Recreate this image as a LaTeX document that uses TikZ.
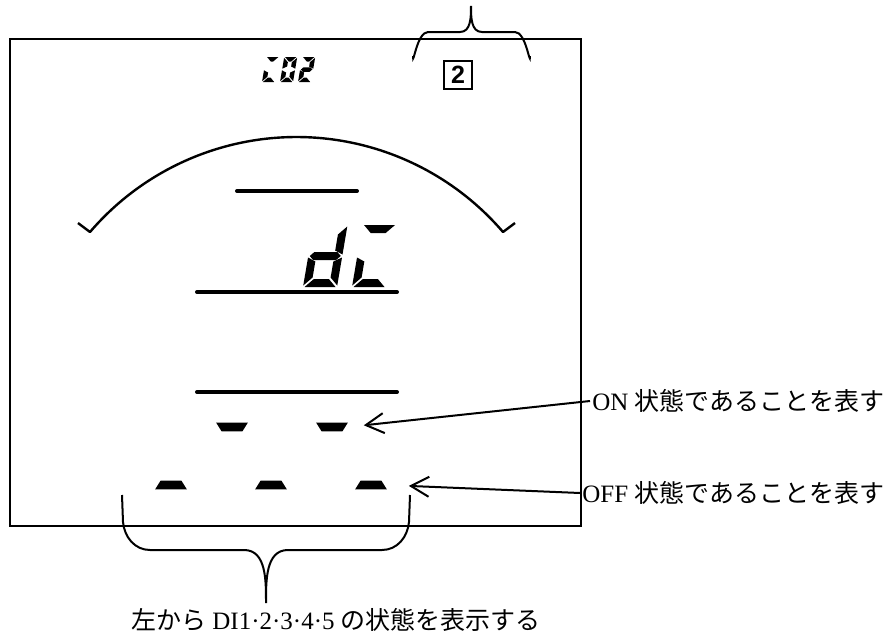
\documentclass[tikz,border=0pt]{standalone}
\usepackage{fontspec}
\setmainfont{Liberation Serif}
\newfontfamily\jpfont{Noto Sans CJK JP}
\newfontfamily\lcdsans{Liberation Sans}
\usetikzlibrary{calc, positioning, arrows.meta}

% seven segment sizes: width / height / thickness / gap (in px units of the picture)
\def\dgw{34}\def\dgh{62}\def\dgt{8}\def\dgg{1.5}
\newcommand{\segA}{\fill (\dgg,-\dgh) -- (\dgw-\dgg,-\dgh) -- (\dgw-\dgg-\dgt,-\dgh+\dgt) -- (\dgg+\dgt,-\dgh+\dgt) -- cycle;}
\newcommand{\segD}{\fill (\dgg,0) -- (\dgw-\dgg,0) -- (\dgw-\dgg-\dgt,-\dgt) -- (\dgg+\dgt,-\dgt) -- cycle;}
\newcommand{\segG}{\fill (\dgg,-\dgh/2) -- (\dgg+\dgt/2,-\dgh/2-\dgt/2) -- (\dgw-\dgg-\dgt/2,-\dgh/2-\dgt/2) -- (\dgw-\dgg,-\dgh/2) -- (\dgw-\dgg-\dgt/2,-\dgh/2+\dgt/2) -- (\dgg+\dgt/2,-\dgh/2+\dgt/2) -- cycle;}
\newcommand{\segF}{\fill (0,-\dgh+\dgg) -- (\dgt,-\dgh+\dgg+\dgt) -- (\dgt,-\dgh/2-\dgg-\dgt/2) -- (0,-\dgh/2-\dgg) -- cycle;}
\newcommand{\segE}{\fill (0,-\dgg) -- (\dgt,-\dgg-\dgt) -- (\dgt,-\dgh/2+\dgg+\dgt/2) -- (0,-\dgh/2+\dgg) -- cycle;}
\newcommand{\segB}{\fill (\dgw,-\dgh+\dgg) -- (\dgw-\dgt,-\dgh+\dgg+\dgt) -- (\dgw-\dgt,-\dgh/2-\dgg-\dgt/2) -- (\dgw,-\dgh/2-\dgg) -- cycle;}
\newcommand{\segC}{\fill (\dgw,-\dgg) -- (\dgw-\dgt,-\dgg-\dgt) -- (\dgw-\dgt,-\dgh/2+\dgg+\dgt/2) -- (\dgw,-\dgh/2+\dgg) -- cycle;}
% one slanted digit: bottom-left x / y / list of lit segments
\newcommand{\lcddigit}[3]{%
	\begin{scope}[shift={(#1,#2)}, xslant=0.17]
		\foreach \s in {#3} {\csname seg\s\endcsname}
	\end{scope}}

\begin{document}
\begin{tikzpicture}[x=0.5pt, y=-0.5pt,
		lcdbar/.style={line width=2pt, line cap=round},
		lcdline/.style={line width=1.2pt, line join=round},
		segbox/.style={inner sep=0pt, minimum width=15.5pt, minimum height=4pt},
		brace/.style={line width=1pt},
		pointer/.style={-{Straight Barb[length=9pt, width=10pt]}, line width=1pt},
		note/.style={anchor=west, inner sep=1pt, font=\fontsize{12.5pt}{15pt}\selectfont}
		]
		\useasboundingbox (0,0) rectangle (896,633);
		
		% ==========================================
		% 1. DISPLAY FRAME AND FIXED MARKS
		% ==========================================
		\draw[line width=1pt] (10,39) rectangle (581,526);
		
		% gauge arc with its end ticks
		\draw[lcdline] (78,223) -- (90,232) arc[start angle=220.6, end angle=319.4, radius=272] -- (515,223);
		
		% horizontal bars
		\draw[lcdbar] (237,191) -- (357,191);
		\draw[lcdbar] (197,292) -- (397,292);
		\draw[lcdbar] (197,392) -- (397,392);
		
		% page number box
		\node[draw, line width=1pt, minimum size=14pt, inner sep=0pt, font=\lcdsans\bfseries\fontsize{12.5pt}{12.5pt}\selectfont] (pagebox) at (458,75) {2};
		
		% ==========================================
		% 2. SEVEN SEGMENT TEXTS
		% ==========================================
		% small "c02" at the top
		\def\dgw{13}\def\dgh{25}\def\dgt{4.5}\def\dgg{0.8}
		\lcddigit{262}{82}{A,D,E}
		\lcddigit{280}{82}{A,B,C,D,E,F}
		\lcddigit{298}{82}{A,B,G,E,D}
		% large "dc" in the middle
		\def\dgw{34}\def\dgh{62}\def\dgt{8}\def\dgg{1.5}
		\lcddigit{303}{287}{B,C,D,E,G}
		\lcddigit{352}{287}{A,D,E}
		
		% ==========================================
		% 3. DI STATE SEGMENTS (ON: wide top, OFF: wide bottom)
		% ==========================================
		\foreach \i/\xc in {1/232, 2/332} {
			\node[segbox] (on\i) at (\xc,427) {};
			\fill (on\i.north west) -- (on\i.north east) -- ($(on\i.south east)+(-5.5,0)$) -- ($(on\i.south west)+(5.5,0)$) -- cycle;
		}
		\foreach \i/\xc in {1/171, 2/271, 3/371} {
			\node[segbox] (off\i) at (\xc,485) {};
			\fill ($(off\i.north west)+(5.5,0)$) -- ($(off\i.north east)+(-5.5,0)$) -- (off\i.south east) -- (off\i.south west) -- cycle;
		}
		
		% ==========================================
		% 4. BRACES AND NOTES
		% ==========================================
		\draw[brace] (413,56) to[out=-90,in=180] (428,32) -- (460,32) to[out=0,in=-90] (471,6)
		to[out=-90,in=180] (482,32) -- (515,32) to[out=0,in=-90] (530,56);
		
		\draw[brace] (122,495) -- (123,522) to[out=-85,in=180] (150,550) -- (244,550) to[out=0,in=90] (266,603)
		to[out=90,in=180] (288,550) -- (382,550) to[out=0,in=-95] (409,522) -- (410,495);
		
		\node[note, anchor=center, inner sep=0pt] (dilbl) at (336,620) {{\jpfont 左から} DI1·2·3·4·5 {\jpfont の状態を表示する}};
		\node[note] (onlbl) at (590,401) {ON {\jpfont 状態であることを表す}};
		\node[note] (offlbl) at (580,493) {OFF {\jpfont 状態であることを表す}};
		
		\draw[pointer, shorten >=8pt] (onlbl.west) -- (on2.east);
		\draw[pointer, shorten >=11pt] (offlbl.west) -- (off3.east);
		
	\end{tikzpicture}
\end{document}
